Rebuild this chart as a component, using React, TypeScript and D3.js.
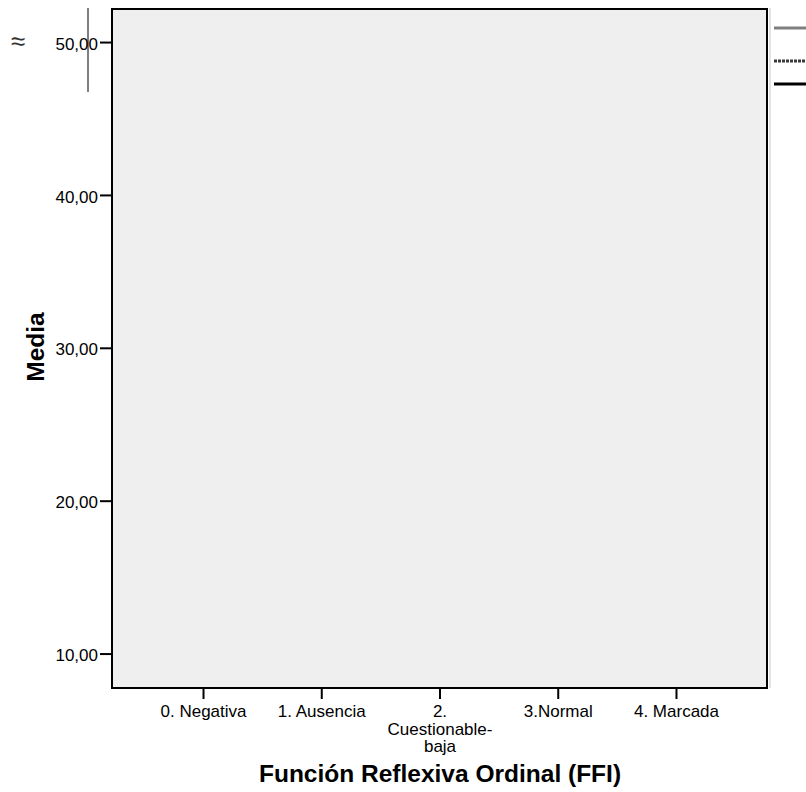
import React from "react";
import * as d3 from "d3";

const categories: string[] = [
  "0. Negativa",
  "1. Ausencia",
  "2.\nCuestionable-\nbaja",
  "3.Normal",
  "4. Marcada",
];
const yTicks: number[] = [10, 20, 30, 40, 50];
const yDomain: number[] = [7.78, 52.26];
const legendSeries: string[] = ["serie1", "serie2", "serie3"];
const xTitle = "Función Reflexiva Ordinal (FFI)";
const yTitle = "Media";

const W = 806;
const H = 792;
const plot = { left: 112, top: 8, right: 768, bottom: 688 };
const FONT = '"Liberation Sans", Arial, Helvetica, sans-serif';

const legendStyle: Record<string, { stroke: string; dash?: string }> = {
  serie1: { stroke: "#7f7f7f" },
  serie2: { stroke: "#3a3a3a", dash: "3,1" },
  serie3: { stroke: "#000000" },
};
const legendYs: Record<string, number> = { serie1: 28, serie2: 61, serie3: 84 };

export default function App() {
  const x = d3
    .scalePoint<string>()
    .domain(categories)
    .range([plot.left, plot.right])
    .padding(0.774);
  const y = d3.scaleLinear().domain(yDomain).range([plot.bottom, plot.top]);
  const fmt = (v: number) => v.toFixed(2).replace(".", ",");

  return (
    <svg
      width={W}
      height={H}
      style={{ position: "absolute", left: 0, top: 0, background: "#fff" }}
      fontFamily={FONT}
    >
      <rect x={0} y={0} width={W} height={H} fill="#ffffff" />
      {/* plot area */}
      <rect
        x={plot.left}
        y={plot.top}
        width={plot.right - plot.left}
        height={plot.bottom - plot.top}
        fill="#efefef"
        stroke="none"
      />
      <line x1={plot.right + 2} x2={plot.right + 2} y1={plot.top} y2={plot.bottom} stroke="#c8c8c8" strokeWidth={1} />
      <rect
        x={plot.left}
        y={plot.top + 1}
        width={plot.right - plot.left - 1}
        height={plot.bottom - plot.top - 1}
        fill="none"
        stroke="#000"
        strokeWidth={2}
      />

      {/* y axis ticks */}
      {yTicks.map((t) => (
        <g key={t}>
          <line x1={plot.left - 12} x2={plot.left} y1={y(t)} y2={y(t)} stroke="#000" strokeWidth={2} />
          <text
            x={plot.left - 14}
            y={y(t)}
            dy="0.42em"
            textAnchor="end"
            fontSize={17}
            fill="#000"
          >
            {fmt(t)}
          </text>
        </g>
      ))}

      {/* x axis ticks */}
      {categories.map((c) => {
        const cx = x(c) as number;
        const lines = c.split("\n");
        return (
          <g key={c}>
            <line x1={cx} x2={cx} y1={plot.bottom} y2={plot.bottom + 11} stroke="#000" strokeWidth={2} />
            <text textAnchor="middle" fontSize={17} fill="#000">
              {lines.map((ln, i) => (
                <tspan key={i} x={cx} y={717 + i * 17.5}>
                  {ln}
                </tspan>
              ))}
            </text>
          </g>
        );
      })}

      {/* axis titles */}
      <text
        x={(plot.left + plot.right) / 2}
        y={782}
        textAnchor="middle"
        fontSize={24.5}
        fontWeight="bold"
        fill="#000"
      >
        {xTitle}
      </text>
      <text
        transform={`translate(44, 347) rotate(-90)`}
        textAnchor="middle"
        fontSize={24.5}
        fontWeight="bold"
        fill="#000"
      >
        {yTitle}
      </text>

      {/* clipped legend fragments */}
      <line x1={88} x2={88} y1={8} y2={92} stroke="#000" strokeWidth={1} />
      <text x={18} y={50} fontSize={26} fill="#333" textAnchor="middle">
        ≈
      </text>
      {legendSeries.map((s) => {
        const st = legendStyle[s];
        const ly = legendYs[s];
        return (
          <line
            key={s}
            x1={774}
            x2={806}
            y1={ly}
            y2={ly}
            stroke={st.stroke}
            strokeWidth={3}
            strokeDasharray={st.dash}
          />
        );
      })}
    </svg>
  );
}
